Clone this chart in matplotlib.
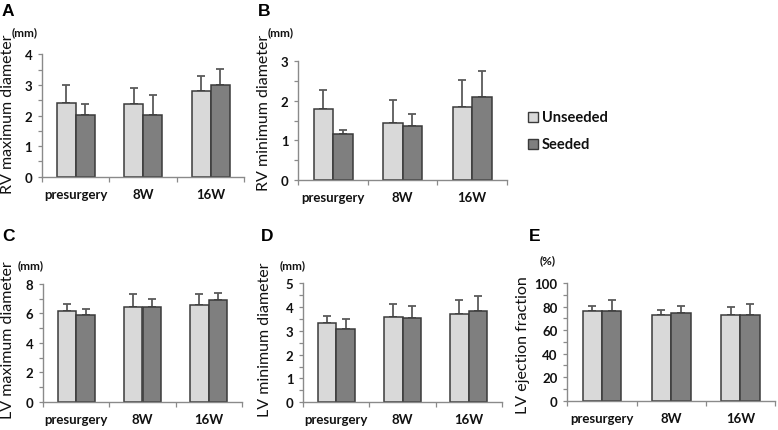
import matplotlib
matplotlib.use("Agg")
import matplotlib.pyplot as plt
from matplotlib.ticker import MultipleLocator
from matplotlib.patches import Rectangle

categories = ["presurgery", "8W", "16W"]
series_names = ["Unseeded", "Seeded"]

rv_max_unseeded = [2.40, 2.37, 2.80]
rv_max_unseeded_sd = [0.61, 0.54, 0.50]
rv_max_seeded = [2.01, 2.01, 3.01]
rv_max_seeded_sd = [0.36, 0.67, 0.51]

rv_min_unseeded = [1.79, 1.44, 1.85]
rv_min_unseeded_sd = [0.49, 0.59, 0.68]
rv_min_seeded = [1.15, 1.37, 2.09]
rv_min_seeded_sd = [0.11, 0.30, 0.66]

lv_max_unseeded = [6.17, 6.42, 6.60]
lv_max_unseeded_sd = [0.50, 0.93, 0.75]
lv_max_seeded = [5.92, 6.42, 6.89]
lv_max_seeded_sd = [0.38, 0.54, 0.50]

lv_min_unseeded = [3.31, 3.58, 3.69]
lv_min_unseeded_sd = [0.31, 0.55, 0.58]
lv_min_seeded = [3.07, 3.53, 3.83]
lv_min_seeded_sd = [0.44, 0.49, 0.64]

ef_unseeded = [76.2, 73.1, 73.1]
ef_unseeded_sd = [4.0, 4.0, 6.2]
ef_seeded = [76.2, 74.2, 72.5]
ef_seeded_sd = [9.4, 6.5, 9.4]

W, H = 778, 431
fig = plt.figure(figsize=(W / 100, H / 100), dpi=100)

C_UN = "#d9d9d9"
C_SE = "#7f7f7f"
EDGE = "#3a3a3a"
AXC = "#8a8a8a"
ERRC = "#5a5a5a"
TXT = "#111111"
TICKFONT = dict(family="Lato", weight="bold", size=9.5)


def px_axes(x0, x1, ytop, ybot):
    return fig.add_axes([x0 / W, 1 - ybot / H, (x1 - x0) / W, (ybot - ytop) / H])


def panel(box, un, un_sd, se, se_sd, ymax, major, minor, ylabel, ylab_xy, unit, unit_xy, letter, letter_xy):
    ax = px_axes(*box)
    n = len(categories)
    xs = [i + 0.5 for i in range(n)]
    bw = 0.28
    xu = [x - bw / 2 for x in xs]
    xse = [x + bw / 2 for x in xs]
    ax.errorbar(xu, un, yerr=[[0] * n, un_sd], fmt="none", ecolor=ERRC, elinewidth=1.3,
                capsize=2.6, capthick=1.3, zorder=1)
    ax.errorbar(xse, se, yerr=[[0] * n, se_sd], fmt="none", ecolor=ERRC, elinewidth=1.3,
                capsize=2.6, capthick=1.3, zorder=1)
    ax.bar(xu, un, width=bw, color=C_UN, edgecolor=EDGE, linewidth=1.1, zorder=2)
    ax.bar(xse, se, width=bw, color=C_SE, edgecolor=EDGE, linewidth=1.1, zorder=2)
    ax.set_xlim(0, n)
    ax.set_ylim(0, ymax)
    ax.set_xticks(range(n + 1))
    ax.set_xticklabels([])
    ax.set_xticks(xs, minor=True)
    ax.set_xticklabels(categories, minor=True, color=TXT, **TICKFONT)
    ax.tick_params(axis="x", which="major", direction="out", length=3.5, color=AXC, width=0.9)
    ax.tick_params(axis="x", which="minor", length=0, pad=8)
    ax.yaxis.set_major_locator(MultipleLocator(major))
    ax.yaxis.set_minor_locator(MultipleLocator(minor))
    ax.tick_params(axis="y", which="both", direction="out", length=3, color=AXC, width=0.9, pad=4)
    for lab in ax.get_yticklabels():
        lab.set_fontfamily("Lato")
        lab.set_fontweight("bold")
        lab.set_fontsize(9.5)
        lab.set_color(TXT)
    for s in ["top", "right"]:
        ax.spines[s].set_visible(False)
    for s in ["left", "bottom"]:
        ax.spines[s].set_color(AXC)
        ax.spines[s].set_linewidth(1.0)
    fig.text(ylab_xy[0] / W, 1 - ylab_xy[1] / H, ylabel, rotation=90, ha="center", va="center",
             family="Lato", size=11.5, color=TXT)
    fig.text(unit_xy[0] / W, 1 - unit_xy[1] / H, unit, ha="left", va="center",
             family="Lato", weight="bold", size=8.5, color=TXT)
    fig.text(letter_xy[0] / W, 1 - letter_xy[1] / H, letter, ha="left", va="center",
             family="Liberation Sans", weight="bold", size=12.5, color="#000000")
    return ax


panel((42, 244.5, 55.3, 177.7), rv_max_unseeded, rv_max_unseeded_sd, rv_max_seeded, rv_max_seeded_sd,
      4, 1, 0.5, "RV maximum diameter", (8.5, 114), "(mm)", (12, 33), "A", (2, 11))
panel((298.3, 507, 62.3, 181), rv_min_unseeded, rv_min_unseeded_sd, rv_min_seeded, rv_min_seeded_sd,
      3, 1, 0.5, "RV minimum diameter", (264.5, 113), "(mm)", (268, 33), "B", (258, 11))
panel((43.3, 241.7, 285, 402.7), lv_max_unseeded, lv_max_unseeded_sd, lv_max_seeded, lv_max_seeded_sd,
      8, 2, 1, "LV maximum diameter", (8, 340), "(mm)", (18, 266), "C", (2, 236.5))
panel((303.3, 501.7, 284, 403.3), lv_min_unseeded, lv_min_unseeded_sd, lv_min_seeded, lv_min_seeded_sd,
      5, 1, 0.5, "LV minimum diameter", (265, 340), "(mm)", (280, 266), "D", (261, 236.5))
panel((567.3, 775, 284, 401.7), ef_unseeded, ef_unseeded_sd, ef_seeded, ef_seeded_sd,
      100, 20, 10, "LV ejection fraction", (522.5, 345), "(%)", (540, 261), "E", (529, 236.5))

# legend
for i, (name, col) in enumerate(zip(series_names, [C_UN, C_SE])):
    yc = 118 + i * 27
    fig.patches.append(Rectangle((528 / W, 1 - (yc + 5) / H), 10 / W, 10 / H,
                                 transform=fig.transFigure, facecolor=col, edgecolor=EDGE,
                                 linewidth=1.0, figure=fig))
    fig.text(542 / W, 1 - yc / H, name, ha="left", va="center", family="Lato", weight="bold",
             size=10.5, color=TXT)

fig.savefig("out.png", dpi=100)
